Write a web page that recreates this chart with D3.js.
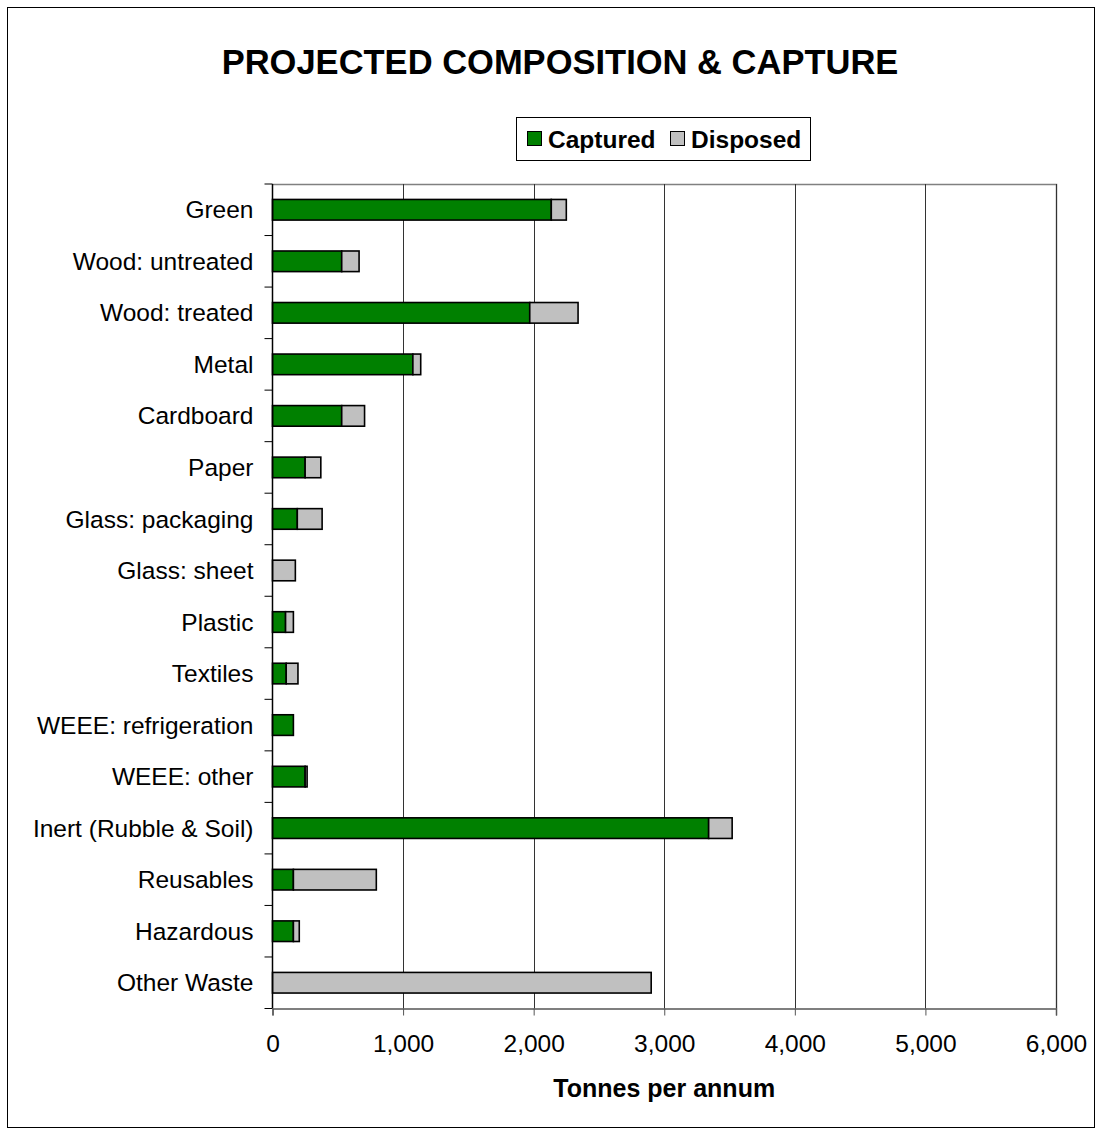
<!DOCTYPE html>
<html>
<head>
<meta charset="utf-8">
<script src="https://cdn.jsdelivr.net/npm/d3@7"></script>
<style>
  html, body { margin: 0; padding: 0; background: #fff; }
  svg { display: block; font-family: "Liberation Sans", Arial, sans-serif; }
</style>
</head>
<body>
<svg id="chart" width="1096" height="1128"></svg>
<script>
// Waste streams, top to bottom
const categories = [
  "Green", "Wood: untreated", "Wood: treated", "Metal", "Cardboard", "Paper",
  "Glass: packaging", "Glass: sheet", "Plastic", "Textiles", "WEEE: refrigeration",
  "WEEE: other", "Inert (Rubble & Soil)", "Reusables", "Hazardous", "Other Waste"
];
// Tonnes per annum captured for reuse/recycling
const captured = [2135, 530, 1970, 1075, 530, 250, 190, 0, 100, 105, 160, 250, 3340, 160, 160, 0];
// Tonnes per annum sent for disposal
const disposed = [115, 133, 370, 60, 175, 120, 190, 175, 60, 90, 0, 15, 180, 635, 45, 2900];
const seriesNames = ["Captured", "Disposed"];
const seriesColors = ["#008000", "#C0C0C0"];
const xTicks = [0, 1000, 2000, 3000, 4000, 5000, 6000];

const svg = d3.select("#chart");
const W = 1096, H = 1128;
const plot = { left: 272.5, right: 1056, top: 184, bottom: 1008.5 };
const labelSize = 24.5;

// Outer frame
svg.append("rect")
  .attr("x", 7.5).attr("y", 7.5)
  .attr("width", W - 9).attr("height", H - 8)
  .attr("fill", "#fff").attr("stroke", "#000").attr("stroke-width", 1);

// Title
svg.append("text")
  .attr("x", 560).attr("y", 74)
  .attr("text-anchor", "middle")
  .attr("font-size", 34.5).attr("font-weight", "bold")
  .text("PROJECTED COMPOSITION & CAPTURE");

const x = d3.scaleLinear().domain([0, 6000]).range([plot.left, plot.right]);
const y = d3.scaleBand().domain(categories).range([plot.top, plot.bottom]).paddingInner(0.6).paddingOuter(0.3);
const band = d3.scaleBand().domain(categories).range([plot.top, plot.bottom]);

// Plot frame (top and right edges)
svg.append("path")
  .attr("d", `M${plot.left},${plot.top + 0.5}H${plot.right + 0.5}V${plot.bottom}`)
  .attr("fill", "none").attr("stroke", "#808080").attr("stroke-width", 1.5);

// Vertical gridlines
svg.append("g").selectAll("line")
  .data(xTicks.slice(1))
  .join("line")
  .attr("x1", d => Math.round(x(d)) + 0.5).attr("x2", d => Math.round(x(d)) + 0.5)
  .attr("y1", plot.top).attr("y2", plot.bottom)
  .attr("stroke", "#333").attr("stroke-width", 1);

// Stacked bars
const stackData = categories.map((c, i) => ({ cat: c, Captured: captured[i], Disposed: disposed[i] }));
const stacked = d3.stack().keys(seriesNames)(stackData);

svg.append("g").selectAll("g")
  .data(stacked)
  .join("g")
  .attr("fill", (d, i) => seriesColors[i])
  .selectAll("rect")
  .data(d => d.filter(s => s[1] - s[0] > 0))
  .join("rect")
  .attr("x", d => x(d[0]))
  .attr("y", d => y(d.data.cat))
  .attr("width", d => x(d[1]) - x(d[0]))
  .attr("height", y.bandwidth())
  .attr("stroke", "#000").attr("stroke-width", 1.6);

// Y axis
const yAxis = svg.append("g")
  .attr("transform", `translate(${plot.left},0)`);
yAxis.append("line")
  .attr("x1", 0).attr("x2", 0).attr("y1", plot.top).attr("y2", plot.bottom)
  .attr("stroke", "#000").attr("stroke-width", 1.5);
yAxis.selectAll("line.tick")
  .data(d3.range(categories.length + 1))
  .join("line")
  .attr("class", "tick")
  .attr("x1", -8).attr("x2", 0)
  .attr("y1", i => plot.top + i * band.bandwidth())
  .attr("y2", i => plot.top + i * band.bandwidth())
  .attr("stroke", "#000").attr("stroke-width", 1);
yAxis.selectAll("text")
  .data(categories)
  .join("text")
  .attr("x", -19)
  .attr("y", d => band(d) + band.bandwidth() / 2)
  .attr("dy", "0.35em")
  .attr("text-anchor", "end")
  .attr("font-size", labelSize)
  .text(d => d);

// X axis
const xAxis = svg.append("g")
  .attr("transform", `translate(0,${plot.bottom})`)
  .call(d3.axisBottom(x).tickValues(xTicks).tickFormat(d3.format(",")).tickSize(7).tickPadding(19));
xAxis.select(".domain").attr("stroke", "#555").attr("stroke-width", 1.5);
xAxis.selectAll(".tick line").attr("stroke", "#555");
xAxis.selectAll(".tick text")
  .attr("font-size", labelSize).attr("fill", "#000")
  .attr("font-family", "'Liberation Sans', Arial, sans-serif");

svg.append("text")
  .attr("x", x(3000)).attr("y", 1097)
  .attr("text-anchor", "middle")
  .attr("font-size", 25).attr("font-weight", "bold")
  .text("Tonnes per annum");

// Legend
const legend = svg.append("g");
legend.append("rect")
  .attr("x", 516.5).attr("y", 117.5).attr("width", 294).attr("height", 43)
  .attr("fill", "#fff").attr("stroke", "#000").attr("stroke-width", 1);
const legendX = [527, 670];
seriesNames.forEach((name, i) => {
  legend.append("rect")
    .attr("x", legendX[i] + 0.5).attr("y", 131.5).attr("width", 14).attr("height", 14)
    .attr("fill", seriesColors[i]).attr("stroke", "#000").attr("stroke-width", 1);
  legend.append("text")
    .attr("x", legendX[i] + 21).attr("y", 139)
    .attr("dy", "0.35em")
    .attr("font-size", labelSize).attr("font-weight", "bold")
    .text(name);
});
</script>
</body>
</html>
